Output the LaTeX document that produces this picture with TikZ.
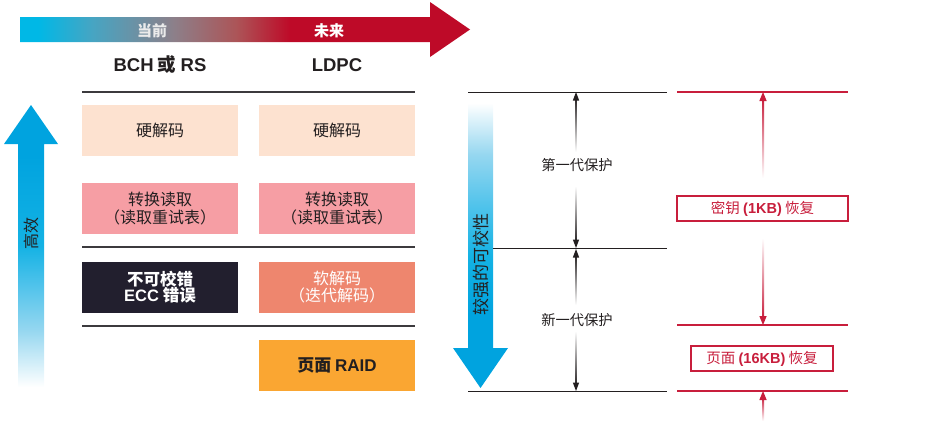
\documentclass[tikz,border=0pt]{standalone}
\usepackage{fontspec}
\setmainfont{Noto Sans CJK SC}
\newfontfamily\lat{Liberation Sans}
\definecolor{txt}{RGB}{35,31,32}
\definecolor{cyanA}{RGB}{0,184,230}
\definecolor{tealA}{RGB}{70,165,195}
\definecolor{greyA}{RGB}{140,128,138}
\definecolor{brownA}{RGB}{172,85,88}
\definecolor{redA}{RGB}{190,10,40}
\definecolor{peach}{RGB}{253,226,208}
\definecolor{pinkA}{RGB}{246,158,164}
\definecolor{navy}{RGB}{34,31,46}
\definecolor{salmon}{RGB}{238,134,110}
\definecolor{orangeA}{RGB}{250,166,50}
\definecolor{blueA}{RGB}{0,163,223}
\definecolor{blueB}{RGB}{20,178,228}
\definecolor{blueC}{RGB}{80,195,235}
\definecolor{blueD}{RGB}{150,215,240}
\definecolor{redL}{RGB}{200,30,60}
\definecolor{lineG}{RGB}{60,58,62}
\pgfdeclarehorizontalshading{topgrad}{100bp}{color(0bp)=(cyanA); color(27bp)=(cyanA); color(33bp)=(tealA); color(42bp)=(greyA); color(49bp)=(brownA); color(55bp)=(redA); color(100bp)=(redA)}
\pgfdeclareverticalshading{upgrad}{100bp}{color(0bp)=(white); color(25bp)=(white); color(35bp)=(blueD); color(43bp)=(blueC); color(50bp)=(blueB); color(66bp)=(blueA); color(100bp)=(blueA)}
\pgfdeclareverticalshading{downgrad}{100bp}{color(0bp)=(blueA); color(38bp)=(blueA); color(48bp)=(blueB); color(57bp)=(blueC); color(66bp)=(blueD); color(75bp)=(white); color(100bp)=(white)}
\begin{document}
\begin{tikzpicture}[x=1pt,y=-1pt,
  box/.style={minimum width=156pt, minimum height=51pt, inner sep=0pt, align=center, text=txt, font=\fontsize{16}{17.5}\selectfont},
  hline/.style={line width=1.5pt, draw=lineG},
  bline/.style={line width=1pt, draw=txt},
  rline/.style={line width=1.1pt, draw=redL},
  rbox/.style={draw=redL, line width=1.1pt, fill=white, inner sep=0pt, text=redL, font=\fontsize{14.5}{16}\selectfont},
  lbl/.style={text=txt, font=\fontsize{14.3}{16}\selectfont, inner sep=1pt},
  head/.style={font=\fontsize{18.5}{20}\selectfont\bfseries, text=txt, inner sep=1pt}]
\useasboundingbox (0,0) rectangle (941,432);
% top arrow
\shade[shading=topgrad] (20,17) -- (430,17) -- (430,2) -- (470,29.5) -- (430,57) -- (430,42) -- (20,42) -- cycle;
\node[text=white!92!black, font=\fontsize{15}{17}\selectfont\bfseries] (now) at (152,31) {当前};
\node[text=white, font=\fontsize{15}{17}\selectfont\bfseries] (fut) at (329,31) {未来};
\node[head] (bch) at (160,65) {{\lat BCH} 或 {\lat RS}};
\node[head] (ldpc) at (337,65) {\lat LDPC};
% left arrow
\shade[shading=upgrad] (18,387) -- (18,144) -- (4,144) -- (31,105) -- (58,144) -- (44,144) -- (44,387) -- cycle;
\node[rotate=90, text=txt, font=\fontsize{16}{18}\selectfont] (eff) at (31,233) {高效};
% lines
\coordinate (l1a) at (82,92); \coordinate (l1b) at (415,92);
\coordinate (l2a) at (82,247); \coordinate (l2b) at (415,247);
\coordinate (l3a) at (82,326); \coordinate (l3b) at (415,326);
\draw[hline] (l1a) -- (l1b);
\draw[hline] (l2a) -- (l2b);
\draw[hline] (l3a) -- (l3b);
% boxes
\node[box, fill=peach] (h1) at (160,130.5) {硬解码};
\node[box, fill=peach] (h2) at (337,130.5) {硬解码};
\node[box, fill=pinkA] (r1) at (160,208.5) {转换读取\\（读取重试表）};
\node[box, fill=pinkA] (r2) at (337,208.5) {转换读取\\（读取重试表）};
\node[box, fill=navy, text=white, font=\fontsize{16.5}{15.5}\selectfont\bfseries] (u1) at (160,287) {不可校错\\{\lat ECC} 错误};
\node[box, fill=salmon, text=white] (s2) at (337,287) {软解码\\（迭代解码）};
\node[box, fill=orangeA, font=\fontsize{17}{18}\selectfont\bfseries] (p2) at (337,365) {页面 {\lat RAID}};
% middle section
\shade[shading=downgrad] (468,103) -- (493,103) -- (493,348) -- (508,348) -- (480.5,388) -- (453,348) -- (468,348) -- cycle;
\node[rotate=90, text=txt, font=\fontsize{17}{18}\selectfont] (str) at (481,264) {较强的可校性};
\coordinate (m1a) at (468,92); \coordinate (m1b) at (667,92);
\coordinate (m2a) at (493,248); \coordinate (m2b) at (667,248);
\coordinate (m3a) at (468,391); \coordinate (m3b) at (667,391);
\draw[bline] (m1a) -- (m1b);
\draw[bline] (m2a) -- (m2b);
\draw[bline] (m3a) -- (m3b);
\node[lbl] (g1) at (577,165) {第一代保护};
\node[lbl] (g2) at (577,320) {新一代保护};
% black double arrows
\shade[top color=txt, bottom color=white] (575.3,97) rectangle (576.7,152);
\fill[txt] (576,92) -- (572.8,100.5) -- (579.2,100.5) -- cycle;
\shade[top color=white, bottom color=txt] (575.3,186) rectangle (576.7,243);
\fill[txt] (576,248) -- (572.8,239.5) -- (579.2,239.5) -- cycle;
\shade[top color=txt, bottom color=white] (575.3,254) rectangle (576.7,305);
\fill[txt] (576,249) -- (572.8,257.5) -- (579.2,257.5) -- cycle;
\shade[top color=white, bottom color=txt] (575.3,331) rectangle (576.7,386);
\fill[txt] (576,391) -- (572.8,382.5) -- (579.2,382.5) -- cycle;
% right section
\coordinate (n1a) at (677,92); \coordinate (n1b) at (848,92);
\coordinate (n2a) at (677,325); \coordinate (n2b) at (848,325);
\coordinate (n3a) at (677,391); \coordinate (n3b) at (848,391);
\draw[rline] (n1a) -- (n1b);
\draw[rline] (n2a) -- (n2b);
\draw[rline] (n3a) -- (n3b);
\node[rbox, minimum width=171pt, minimum height=25pt] (k1) at (762.5,208.5) {密钥 {\lat\bfseries (1KB)} 恢复};
\node[rbox, minimum width=142pt, minimum height=25pt] (k2) at (762,358.5) {页面 {\lat\bfseries (16KB)} 恢复};
\shade[top color=redL, bottom color=white] (762,98) rectangle (764,178);
\fill[redL] (763,92) -- (759.3,101) -- (766.7,101) -- cycle;
\shade[top color=white, bottom color=redL] (762,238) rectangle (764,319);
\fill[redL] (763,325) -- (759.3,316) -- (766.7,316) -- cycle;
\shade[top color=redL, bottom color=white] (762,397) rectangle (764,421);
\fill[redL] (763,391) -- (759.3,400) -- (766.7,400) -- cycle;
\end{tikzpicture}
\end{document}
